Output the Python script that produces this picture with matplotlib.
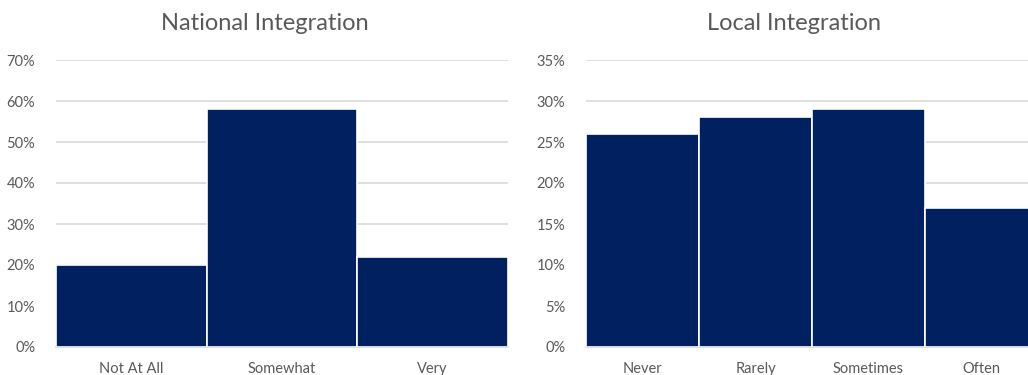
import matplotlib
matplotlib.use("Agg")
import matplotlib.pyplot as plt
from matplotlib.ticker import PercentFormatter, MultipleLocator

nat_cats = ["Not At All", "Somewhat", "Very"]
nat_vals = [20, 58, 22]
loc_cats = ["Never", "Rarely", "Sometimes", "Often"]
loc_vals = [26, 28, 29, 17]

W, H = 1028, 375
fig = plt.figure(figsize=(W / 100, H / 100), dpi=100)
plt.rcParams['font.family'] = ['Lato', 'DejaVu Sans']

BAR = "#002060"
TXT = "#595959"
GRID = "#D9D9D9"

def setup(ax, cats, vals, ymax, step):
    x = range(len(cats))
    ax.bar(x, vals, width=1.0, color=BAR, edgecolor="white", linewidth=1.2, zorder=3)
    ax.set_xlim(-0.5, len(cats) - 0.5)
    ax.set_ylim(0, ymax)
    ax.yaxis.set_major_locator(MultipleLocator(step))
    ax.yaxis.set_major_formatter(PercentFormatter(decimals=0))
    ax.set_xticks(list(x))
    ax.set_xticklabels(cats)
    ax.grid(axis="y", color=GRID, linewidth=1.2, zorder=0)
    for s in ["top", "right", "left"]:
        ax.spines[s].set_visible(False)
    ax.spines["bottom"].set_color(GRID)
    ax.spines["bottom"].set_linewidth(1.2)
    ax.tick_params(axis="both", length=0, labelcolor=TXT, labelsize=10.5)
    ax.tick_params(axis="y", pad=15)
    ax.tick_params(axis="x", pad=11)

def box(x0, x1, y0, y1):
    return [x0 / W, 1 - y1 / H, (x1 - x0) / W, (y1 - y0) / H]

ax1 = fig.add_axes(box(56, 508, 60, 347))
setup(ax1, nat_cats, nat_vals, 70, 10)
ax2 = fig.add_axes(box(586, 1038, 60, 347))
setup(ax2, loc_cats, loc_vals, 35, 5)

fig.text(265 / W, 1 - 23 / H, "National Integration", ha="center", va="center",
         fontsize=17, color=TXT)
fig.text(794 / W, 1 - 23 / H, "Local Integration", ha="center", va="center",
         fontsize=17, color=TXT)

fig.savefig("out.png", dpi=100)
